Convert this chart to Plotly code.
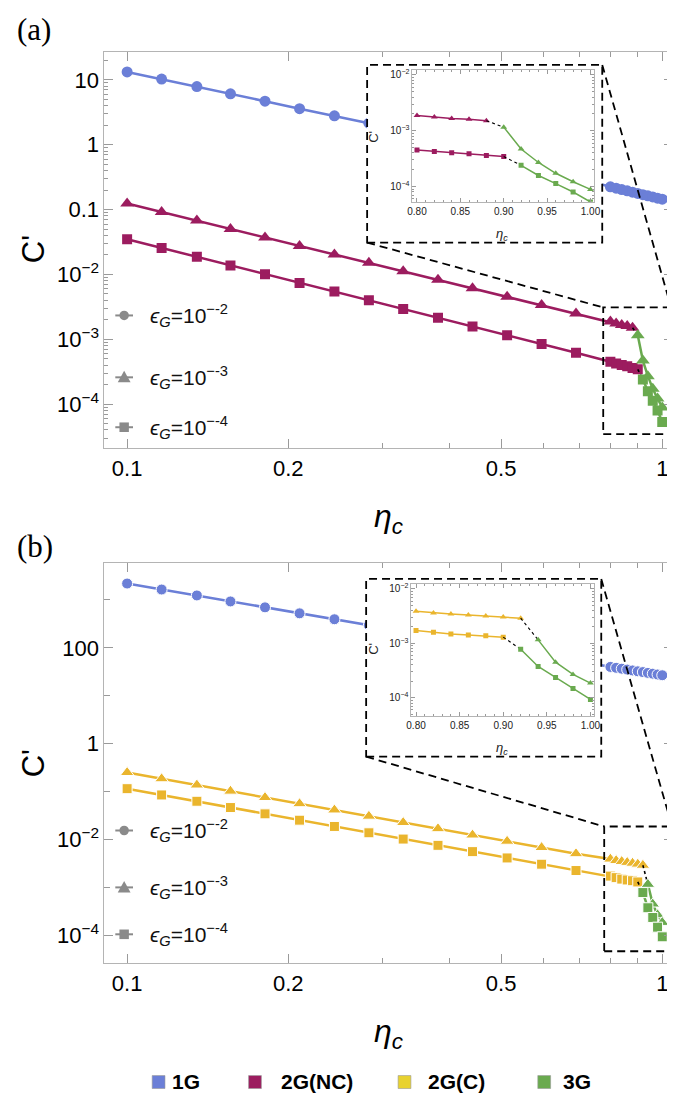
import plotly.graph_objects as go

W, H = 675, 1093


def px(v):
    return v / W


def py(v):
    return 1 - v / H


# ---------------- data ----------------
eta_sparse = [0.1, 0.116, 0.135, 0.156, 0.181, 0.21, 0.244, 0.283, 0.328,
              0.381, 0.442, 0.513, 0.595, 0.69]
eta_dense = [0.80, 0.82, 0.84, 0.86, 0.88, 0.90, 0.92, 0.94, 0.96, 0.98, 1.00]

# panel (a)
a_1g_lo = [13.3, 10.3, 7.9, 6.1, 4.7, 3.6, 2.8, 2.15]
a_1g_hi = [0.225, 0.214, 0.204, 0.195, 0.186, 0.178, 0.170, 0.163, 0.157, 0.150, 0.145]
a_tri_2g_sparse = [0.124, 0.0918, 0.068, 0.0503, 0.0373, 0.0276, 0.0204, 0.0151,
                   0.0112, 0.0083, 0.00614, 0.00455, 0.00337, 0.0025]
a_tri_2g_dense = [1.88e-3, 1.76e-3, 1.66e-3, 1.60e-3, 1.51e-3]
a_tri_3g = [1.16e-3, 4.7e-4, 2.7e-4, 1.73e-4, 1.22e-4, 8.9e-5]
a_sq_2g_sparse = [0.035, 0.0257, 0.0188, 0.0138, 0.0101, 0.0074, 0.00545, 0.004,
                  0.00293, 0.00215, 0.00158, 0.00116, 0.00085, 0.00062]
a_sq_2g_dense = [4.5e-4, 4.25e-4, 4.02e-4, 3.86e-4, 3.6e-4, 3.45e-4]
a_sq_3g = [2.4e-4, 1.58e-4, 1.13e-4, 8.0e-5, 5.3e-5]

# panel (b)
b_1g_lo = [2200, 1650, 1240, 930, 700, 525, 395, 296]
b_1g_hi = [40, 38.3, 36.7, 35.2, 33.8, 32.4, 31.2, 30.0, 28.9, 27.8, 26.8]
b_tri_2g_sparse = [0.25, 0.185, 0.137, 0.102, 0.0753, 0.0558, 0.0413, 0.0306,
                   0.0226, 0.0168, 0.0124, 0.0092, 0.0068, 0.00505]
b_tri_2g_dense = [3.9e-3, 3.63e-3, 3.48e-3, 3.33e-3, 3.2e-3, 3.06e-3, 2.9e-3]
b_tri_3g = [1.16e-3, 4.5e-4, 2.68e-4, 1.86e-4]
b_sq_2g_sparse = [0.115, 0.085, 0.0628, 0.0464, 0.0343, 0.0253, 0.0187, 0.0138,
                  0.0102, 0.00755, 0.00558, 0.00412, 0.00305, 0.00225]
b_sq_2g_dense = [1.72e-3, 1.6e-3, 1.49e-3, 1.43e-3, 1.38e-3, 1.30e-3]
b_sq_3g = [7.8e-4, 3.76e-4, 2.36e-4, 1.48e-4, 9.3e-5]

categories = ["1G", "2G(NC)", "2G(C)", "3G"]
eps_labels = ["-2", "-3", "-4"]

# ---------------- style ----------------
C1G = "#6b7fd7"
CNC = "#9c1c5f"
CC = "#eab52d"
C3G = "#6aaa4f"
legend_colors = ["#6b7fd7", "#9c1c5f", "#e8d230", "#6aaa4f"]
FONT = "Liberation Sans"

fig = go.Figure()


def add(x, y, color, symbol, size, xa, ya, width, outline=0.0, dash=None):
    fig.add_trace(go.Scatter(
        x=x, y=y, mode="lines+markers", xaxis=xa, yaxis=ya, showlegend=False,
        hoverinfo="skip",
        line=dict(color=color, width=width, dash=dash),
        marker=dict(symbol=symbol, size=size, color=color,
                    line=dict(color="white", width=outline))))


def connector(x0, y0, x1, y1, xa, ya, width):
    fig.add_trace(go.Scatter(
        x=[x0, x1], y=[y0, y1], mode="lines", xaxis=xa, yaxis=ya,
        showlegend=False, hoverinfo="skip",
        line=dict(color="black", width=width, dash="dot")))


def panel(xa, ya, c2, one_lo, one_hi, t2s, t2d, t3, s2s, s2d, s3, outline,
          main=True):
    nt = len(t2d)
    ns = len(s2d)
    if main:
        ms = (11, 12, 10)
        lw = 2.5
        add(eta_sparse[:len(one_lo)] + eta_dense, one_lo + one_hi, C1G,
            "circle", ms[0], xa, ya, lw, outline)
        tx = eta_sparse + eta_dense[:nt]
        ty = t2s + t2d
        sx = eta_sparse + eta_dense[:ns]
        sy = s2s + s2d
        cw = 1.6
    else:
        ms = (5, 6, 5)
        lw = 1.5
        tx = eta_dense[:nt]
        ty = t2d
        sx = eta_dense[:ns]
        sy = s2d
        cw = 1.1
    add(tx, ty, c2, "triangle-up", ms[1], xa, ya, lw, outline)
    add(sx, sy, c2, "square", ms[2], xa, ya, lw, outline)
    connector(eta_dense[nt - 1], t2d[-1], eta_dense[nt], t3[0], xa, ya, cw)
    connector(eta_dense[ns - 1], s2d[-1], eta_dense[ns], s3[0], xa, ya, cw)
    add(eta_dense[nt:], t3, C3G, "triangle-up", ms[1], xa, ya, lw, outline)
    add(eta_dense[ns:], s3, C3G, "square", ms[2], xa, ya, lw, outline)


# main panels
panel("x", "y", CNC, a_1g_lo, a_1g_hi, a_tri_2g_sparse, a_tri_2g_dense, a_tri_3g,
      a_sq_2g_sparse, a_sq_2g_dense, a_sq_3g, 0.0)
panel("x2", "y2", CC, b_1g_lo, b_1g_hi, b_tri_2g_sparse, b_tri_2g_dense, b_tri_3g,
      b_sq_2g_sparse, b_sq_2g_dense, b_sq_3g, 1.0)

# cover subplots (white background behind insets)
for xa, ya in (("x3", "y3"), ("x5", "y5")):
    fig.add_trace(go.Scatter(x=[0.5], y=[0.5], mode="markers", xaxis=xa, yaxis=ya,
                             showlegend=False, hoverinfo="skip",
                             marker=dict(size=1, opacity=0)))

# insets
panel("x4", "y4", CNC, None, None, None, a_tri_2g_dense, a_tri_3g,
      None, a_sq_2g_dense, a_sq_3g, 0.0, main=False)
panel("x6", "y6", CC, None, None, None, b_tri_2g_dense, b_tri_3g,
      None, b_sq_2g_dense, b_sq_3g, 0.0, main=False)

# ---------------- axes ----------------
TICKC = "#9a9a9a"
LINEC = "#b4b4b4"


def sup(e):
    return "10<sup>\u2212%s</sup>" % e


xmain = dict(type="log", range=[-1.0423, 0.0202],
             tickvals=[0.1, 0.2, 0.5, 1], ticktext=["0.1", "0.2", "0.5", "1"],
             ticks="inside", ticklen=9, tickcolor=TICKC, tickwidth=1,
             showline=True, linecolor=LINEC, linewidth=1, mirror="ticks",
             showgrid=False, zeroline=False,
             tickfont=dict(family=FONT, size=22, color="black"),
             minor=dict(tickvals=[0.3, 0.4, 0.6, 0.7, 0.8, 0.9], ticks="inside",
                        ticklen=5, tickcolor=TICKC, showgrid=False))

minor_a = [k * 10 ** d for d in range(-5, 2) for k in range(2, 10)]

ya_main = dict(type="log", range=[-4.679, 1.432],
               tickvals=[1e-4, 1e-3, 1e-2, 0.1, 1, 10],
               ticktext=[sup(4), sup(3), sup(2), "0.1", "1", "10"],
               ticks="inside", ticklen=9, tickcolor=TICKC,
               showline=True, linecolor=LINEC, linewidth=1, mirror="ticks",
               showgrid=False, zeroline=False,
               tickfont=dict(family=FONT, size=22, color="black"),
               minor=dict(tickvals=minor_a, ticks="inside", ticklen=4,
                          tickcolor=TICKC, showgrid=False))

yb_main = dict(type="log", range=[-4.583, 3.771],
               tickvals=[1e-4, 1e-2, 1, 100],
               ticktext=[sup(4), sup(2), "1", "100"],
               ticks="inside", ticklen=9, tickcolor=TICKC,
               showline=True, linecolor=LINEC, linewidth=1, mirror="ticks",
               showgrid=False, zeroline=False,
               tickfont=dict(family=FONT, size=22, color="black"),
               minor=dict(tickvals=[1e-3, 0.1, 10, 1000], ticks="inside",
                          ticklen=6, tickcolor=TICKC, showgrid=False))

xin = dict(type="linear", range=[0.7947, 1.0045],
           tickvals=[0.80, 0.85, 0.90, 0.95, 1.00],
           ticktext=["0.80", "0.85", "0.90", "0.95", "1.00"],
           ticks="inside", ticklen=4, tickcolor=TICKC,
           showline=True, linecolor=LINEC, linewidth=1, mirror="ticks",
           showgrid=False, zeroline=False,
           tickfont=dict(family=FONT, size=10, color="#222"),
           minor=dict(dtick=0.01, ticks="inside", ticklen=2, tickcolor=TICKC,
                      showgrid=False))

minor_in = [k * 10 ** d for d in range(-5, -1) for k in range(2, 10)]


def yin(rng):
    return dict(type="log", range=rng, tickvals=[1e-4, 1e-3, 1e-2],
                ticktext=[sup(4), sup(3), sup(2)],
                ticks="inside", ticklen=4, tickcolor=TICKC,
                showline=True, linecolor=LINEC, linewidth=1, mirror="ticks",
                showgrid=False, zeroline=False,
                tickfont=dict(family=FONT, size=10, color="#222"),
                minor=dict(tickvals=minor_in, ticks="inside", ticklen=2,
                           tickcolor=TICKC, showgrid=False))


hidden = dict(visible=False, range=[0, 1], showgrid=False, zeroline=False)

layout = dict(
    width=W, height=H, margin=dict(l=0, r=0, t=0, b=0),
    paper_bgcolor="white", plot_bgcolor="white", showlegend=False,
    xaxis=dict(xmain, domain=[px(93), px(671)], anchor="y"),
    yaxis=dict(ya_main, domain=[py(439), py(42)], anchor="x"),
    xaxis2=dict(xmain, domain=[px(93), px(671)], anchor="y2"),
    yaxis2=dict(yb_main, domain=[py(955), py(554)], anchor="x2"),
    xaxis3=dict(hidden, domain=[px(360), px(599)], anchor="y3"),
    yaxis3=dict(hidden, domain=[py(233), py(55)], anchor="x3"),
    xaxis4=dict(xin, domain=[px(406), px(591)], anchor="y4"),
    yaxis4=dict(yin([-4.27, -1.91]), domain=[py(192), py(60)], anchor="x4"),
    xaxis5=dict(hidden, domain=[px(359), px(598)], anchor="y5"),
    yaxis5=dict(hidden, domain=[py(748), py(570)], anchor="x5"),
    xaxis6=dict(xin, domain=[px(405), px(591)], anchor="y6"),
    yaxis6=dict(yin([-4.33, -1.908]), domain=[py(707), py(575)], anchor="x6"),
)
fig.update_layout(**layout)

# ---------------- decorations ----------------
DASH = "8px,5px"
shapes = []


def dline(x0, y0, x1, y1):
    shapes.append(dict(type="line", xref="paper", yref="paper",
                       x0=px(x0), y0=py(y0), x1=px(x1), y1=py(y1), layer="above",
                       line=dict(color="black", width=1.8, dash=DASH)))


def drect(x0, y0, x1, y1):
    shapes.append(dict(type="rect", xref="paper", yref="paper",
                       x0=px(x0), y0=py(y1), x1=px(x1), y1=py(y0), layer="above",
                       line=dict(color="black", width=1.8, dash=DASH)))


# panel (a)
drect(360, 55, 599, 233)
drect(600, 298, 669, 425)
dline(599, 55, 669, 298)
dline(360, 233, 600, 298)
# panel (b)
drect(359, 570, 598, 748)
drect(601, 818, 670, 943)
dline(598, 570, 670, 818)
dline(359, 748, 601, 818)

annotations = []
GRAY = "#8a8a8a"


def eps_key(yc, kind):
    xc = 113
    shapes.append(dict(type="line", xref="paper", yref="paper",
                       x0=px(xc - 9), x1=px(xc + 9), y0=py(yc), y1=py(yc),
                       line=dict(color=GRAY, width=2), layer="above"))
    if kind == 0:
        shapes.append(dict(type="circle", xref="paper", yref="paper",
                           x0=px(xc - 4.8), x1=px(xc + 4.8), y0=py(yc + 4.8),
                           y1=py(yc - 4.8), fillcolor=GRAY,
                           line=dict(width=0), layer="above"))
    elif kind == 1:
        p = "M %f,%f L %f,%f L %f,%f Z" % (px(xc - 6.5), py(yc + 5), px(xc + 6.5),
                                           py(yc + 5), px(xc), py(yc - 6.5))
        shapes.append(dict(type="path", xref="paper", yref="paper", path=p,
                           fillcolor=GRAY, line=dict(width=0), layer="above"))
    else:
        shapes.append(dict(type="rect", xref="paper", yref="paper",
                           x0=px(xc - 4.8), x1=px(xc + 4.8), y0=py(yc + 4.8),
                           y1=py(yc - 4.8), fillcolor=GRAY,
                           line=dict(width=0), layer="above"))


def eps_text(yc, e):
    annotations.append(dict(
        xref="paper", yref="paper", x=px(137), y=py(yc), xanchor="left",
        yanchor="middle", showarrow=False,
        text="<i>\u03f5</i><sub><i>G</i></sub>=10<sup>\u2212%s</sup>" % e,
        font=dict(family=FONT, size=21, color="#111")))


for rows in ([306, 368, 418], [822, 879, 926]):
    for k, (yc, e) in enumerate(zip(rows, eps_labels)):
        eps_key(yc, k)
        eps_text(yc, e)

# bottom legend
leg_sq = [148, 246, 398, 540]
leg_tx = [160, 270, 420, 557]
for cat, col, xs, xt in zip(categories, legend_colors, leg_sq, leg_tx):
    shapes.append(dict(type="rect", xref="paper", yref="paper",
                       x0=px(xs - 6.5), x1=px(xs + 6.5), y0=py(1074 + 6.5),
                       y1=py(1074 - 6.5), fillcolor=col,
                       line=dict(color="#999", width=0.6), layer="above"))
    annotations.append(dict(xref="paper", yref="paper", x=px(xt), y=py(1073),
                            xanchor="left", yanchor="middle", showarrow=False,
                            text="<b>%s</b>" % cat,
                            font=dict(family=FONT, size=21, color="black")))

# panel labels
for lab, yc in (("(a)", 20), ("(b)", 537)):
    annotations.append(dict(xref="paper", yref="paper", x=px(2), y=py(yc),
                            xanchor="left", yanchor="middle", showarrow=False,
                            text=lab,
                            font=dict(family="Liberation Serif", size=31,
                                      color="black")))

# axis titles
for yc in (509, 1025):
    annotations.append(dict(xref="paper", yref="paper", x=px(382), y=py(yc),
                            xanchor="center", yanchor="middle", showarrow=False,
                            text="<i>\u03b7<sub>c</sub></i>",
                            font=dict(family=FONT, size=32, color="black")))
for yc in (240, 755):
    annotations.append(dict(xref="paper", yref="paper", x=px(21), y=py(yc),
                            xanchor="center", yanchor="middle", showarrow=False,
                            text="C'", textangle=-90,
                            font=dict(family=FONT, size=31, color="black")))
for yc in (225, 740):
    annotations.append(dict(xref="paper", yref="paper", x=px(497), y=py(yc),
                            xanchor="center", yanchor="middle", showarrow=False,
                            text="<i>\u03b7<sub>c</sub></i>",
                            font=dict(family=FONT, size=13, color="#222")))
for yc in (127, 640):
    annotations.append(dict(xref="paper", yref="paper", x=px(367), y=py(yc),
                            xanchor="center", yanchor="middle", showarrow=False,
                            text="C'", textangle=-90,
                            font=dict(family=FONT, size=13, color="#222")))

fig.update_layout(shapes=shapes, annotations=annotations)
fig.write_html("out.html")
